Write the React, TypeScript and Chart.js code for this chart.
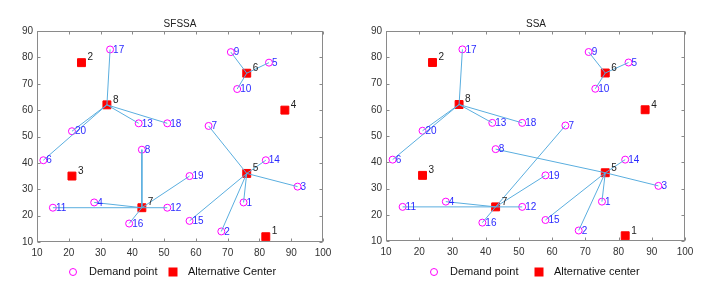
import React, { useEffect, useRef } from 'react';
import { Chart, registerables } from 'chart.js';
Chart.register(...registerables);

// Demand points 1..20
const demandX = [75, 68, 92, 28, 83, 12, 64, 43, 71, 73, 15, 51, 42, 82, 58, 39, 33, 51, 58, 21];
const demandY = [25, 14, 31, 25, 78, 41, 54, 45, 82, 68, 23, 23, 55, 41, 18, 17, 83, 55, 35, 52];
// Alternative centers 1..8
const centerX = [82, 24, 21, 88, 76, 76, 43, 32];
const centerY = [12, 78, 35, 60, 36, 74, 23, 62];
// Assigned center (1-based) of each demand point
const sfssaAssign = [5, 5, 5, 7, 6, 8, 5, 7, 6, 6, 7, 7, 8, 5, 5, 7, 8, 8, 7, 8];
const ssaAssign = [5, 5, 5, 7, 6, 8, 7, 5, 6, 6, 7, 7, 8, 5, 5, 7, 8, 8, 7, 8];

const xTicks = [10, 20, 30, 40, 50, 60, 70, 80, 90, 100];
const yTicks = [10, 20, 30, 40, 50, 60, 70, 80, 90];

const FONT = '"Liberation Sans", Arial, Helvetica, sans-serif';

type PanelProps = {
  title: string;
  assign: number[];
  centerLabel: string;
  yAxisW: number;
  padRight: number;
  xAxisH: number;
  legendX: [number, number, number, number];
  titleX: number;
};

function Panel(p: PanelProps) {
  const ref = useRef<HTMLCanvasElement | null>(null);
  useEffect(() => {
    const canvas = ref.current!;
    const linkSets = p.assign.map((c, i) => ({
      type: 'scatter' as const,
      data: [
        { x: demandX[i], y: demandY[i] },
        { x: centerX[c - 1], y: centerY[c - 1] },
      ],
      showLine: true,
      borderColor: '#5aaedf',
      borderWidth: 1,
      pointRadius: 0,
      order: 0,
    }));
    const overlay = {
      id: 'overlay',
      afterDatasetsDraw(chart: any) {
        const ctx = chart.ctx;
        const xs = chart.scales.x;
        const ys = chart.scales.y;
        ctx.save();
        ctx.font = `10px ${FONT}`;
        ctx.textBaseline = 'middle';
        ctx.textAlign = 'left';
        ctx.fillStyle = '#2a2aff';
        for (let i = 0; i < demandX.length; i++) {
          ctx.fillText(String(i + 1), xs.getPixelForValue(demandX[i]) + 3, ys.getPixelForValue(demandY[i]) + 0.5);
        }
        ctx.fillStyle = '#222';
        for (let i = 0; i < centerX.length; i++) {
          ctx.fillText(String(i + 1), xs.getPixelForValue(centerX[i]) + 6, ys.getPixelForValue(centerY[i]) - 5);
        }
        ctx.restore();
      },
      afterDraw(chart: any) {
        const ctx = chart.ctx;
        const a = chart.chartArea;
        const xs = chart.scales.x;
        const ys = chart.scales.y;
        ctx.save();
        ctx.strokeStyle = '#8a8a8a';
        ctx.lineWidth = 1;
        const L = Math.round(a.left) + 0.5, R = Math.round(a.right) - 0.5;
        const T = Math.round(a.top) + 0.5, B = Math.round(a.bottom) - 0.5;
        ctx.strokeRect(L, T, R - L, B - T);
        ctx.beginPath();
        const tl = 3;
        for (const v of xTicks) {
          const px = Math.round(xs.getPixelForValue(v)) + 0.5;
          ctx.moveTo(px, B); ctx.lineTo(px, B - tl);
          ctx.moveTo(px, T); ctx.lineTo(px, T + tl);
        }
        for (const v of yTicks) {
          const py = Math.round(ys.getPixelForValue(v)) + 0.5;
          ctx.moveTo(L, py); ctx.lineTo(L + tl, py);
          ctx.moveTo(R, py); ctx.lineTo(R - tl, py);
        }
        ctx.stroke();
        // title
        ctx.fillStyle = '#222';
        ctx.font = `10px ${FONT}`;
        ctx.textAlign = 'center';
        ctx.textBaseline = 'middle';
        ctx.fillText(p.title, p.titleX, 24);
        // legend
        const ly = 272;
        ctx.strokeStyle = '#ff00ff';
        ctx.beginPath();
        ctx.arc(p.legendX[0], ly, 3.5, 0, Math.PI * 2);
        ctx.stroke();
        ctx.fillStyle = '#ff0000';
        ctx.fillRect(p.legendX[2] - 4.5, ly - 4.5, 9, 9);
        ctx.fillStyle = '#111';
        ctx.font = `11px ${FONT}`;
        ctx.textAlign = 'left';
        ctx.fillText('Demand point', p.legendX[1], ly);
        ctx.fillText(p.centerLabel, p.legendX[3], ly);
        ctx.restore();
      },
    };
    const chart = new Chart(canvas, {
      type: 'scatter',
      data: {
        datasets: [
          ...linkSets,
          {
            data: centerX.map((x, i) => ({ x, y: centerY[i] })),
            pointStyle: 'rect',
            pointRadius: 5.6,
            backgroundColor: '#ff0000',
            borderColor: '#ff0000',
            borderWidth: 1,
            order: 1,
          },
          {
            data: demandX.map((x, i) => ({ x, y: demandY[i] })),
            pointStyle: 'circle',
            pointRadius: 3.5,
            backgroundColor: 'rgba(0,0,0,0)',
            borderColor: '#ff00ff',
            borderWidth: 1,
            order: 2,
          },
        ] as any,
      },
      options: {
        animation: false,
        responsive: false,
        maintainAspectRatio: false,
        events: [],
        layout: { padding: { left: 0, right: p.padRight, top: 31, bottom: 0 } },
        plugins: { legend: { display: false }, tooltip: { enabled: false }, title: { display: false } },
        scales: {
          x: {
            type: 'linear',
            min: 10,
            max: 100,
            afterBuildTicks: (s: any) => { s.ticks = xTicks.map((v) => ({ value: v })); },
            afterFit: (s: any) => { s.height = p.xAxisH; },
            grid: { display: false, drawTicks: false },
            border: { display: false },
            ticks: { font: { family: FONT, size: 10 }, color: '#333', padding: 5, maxRotation: 0, autoSkip: false },
          },
          y: {
            type: 'linear',
            min: 10,
            max: 90,
            afterBuildTicks: (s: any) => { s.ticks = yTicks.map((v) => ({ value: v })); },
            afterFit: (s: any) => { s.width = p.yAxisW; },
            grid: { display: false, drawTicks: false },
            border: { display: false },
            ticks: { font: { family: FONT, size: 10 }, color: '#333', padding: 4, autoSkip: false },
          },
        },
      },
      plugins: [overlay],
    });
    return () => chart.destroy();
  }, []);
  return <canvas ref={ref} width={358} height={294} style={{ display: 'block', width: 358, height: 294 }} />;
}

export default function App() {
  return (
    <div style={{ position: 'fixed', left: 0, top: 0, width: 716, height: 294, background: '#fff', display: 'flex' }}>
      <Panel title="SFSSA" assign={sfssaAssign} centerLabel="Alternative Center" yAxisW={37} padRight={35} xAxisH={52}
        legendX={[73, 89, 173, 188]} titleX={180} />
      <Panel title="SSA" assign={ssaAssign} centerLabel="Alternative center" yAxisW={28} padRight={31} xAxisH={53}
        legendX={[76, 92, 181, 196]} titleX={178} />
    </div>
  );
}
